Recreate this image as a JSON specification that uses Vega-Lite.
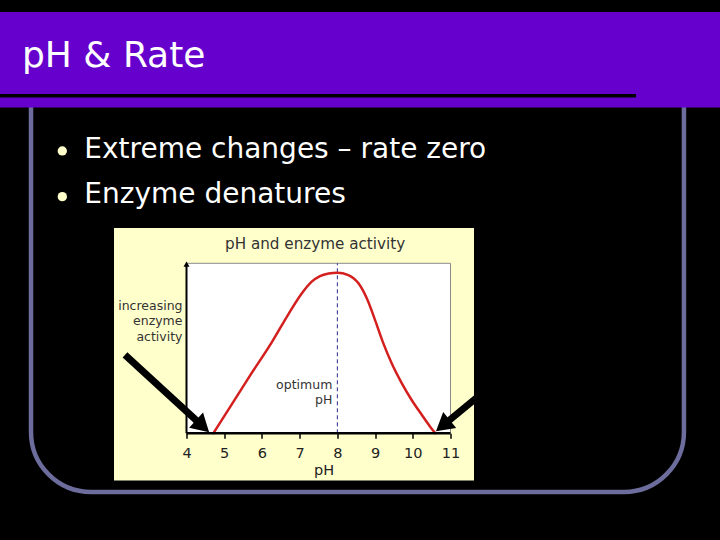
{
  "$schema": "https://vega.github.io/schema/vega-lite/v6.json",
  "width": 264,
  "height": 170,
  "autosize": {"type": "none"},
  "padding": {"left": 186.5, "top": 263.3, "right": 269.5, "bottom": 106.7},
  "background": "#000000",
  "view": {"fill": null, "stroke": null},
  "config": {"view": {"stroke": null}},
  "title": {
    "text": "pH & Rate",
    "subtitle": ["\u200b\u00a0\u00a0\u00a0\u00a0\u00a0\u00a0\u00a0Extreme changes – rate zero", "\u200b\u00a0\u00a0\u00a0\u00a0\u00a0\u00a0\u00a0Enzyme denatures"],
    "anchor": "start",
    "frame": "group",
    "orient": "top",
    "offset": 0,
    "baseline": "top",
    "dx": -164.5,
    "dy": 198.3,
    "font": "DejaVu Sans",
    "fontSize": 36,
    "fontWeight": "normal",
    "color": "#FFFFFF",
    "subtitleFont": "DejaVu Sans",
    "subtitleFontSize": 28,
    "subtitleColor": "#FFFFFF",
    "subtitleLineHeight": 45,
    "subtitlePadding": 61.6
  },
  "layer": [
    {
      "data": {"values": [{}]},
      "mark": {"type": "rect", "fill": "transparent", "stroke": "#6D6D9D", "strokeWidth": 4.5, "cornerRadiusBottomLeft": 60, "cornerRadiusBottomRight": 60, "clip": false},
      "encoding": {
        "x": {
          "datum": -0.123, "type": "quantitative",
          "scale": {"domain": [4, 11], "nice": false, "zero": false},
          "axis": {
            "orient": "bottom", "values": [4, 5, 6, 7, 8, 9, 10, 11], "tickCount": 8,
            "domain": false, "grid": false, "ticks": true, "tickSize": 5, "tickWidth": 1.5, "tickColor": "#000000",
            "labels": true,
            "labelFont": "DejaVu Sans", "labelFontSize": 14.5, "labelColor": "#222222", "labelPadding": 8,
            "labelFlush": false, "labelOverlap": false,
            "title": "pH", "titleFont": "DejaVu Sans", "titleFontSize": 14.5, "titleFontWeight": "normal",
            "titleColor": "#222222", "titleX": 137, "titleY": 37, "titleBaseline": "middle", "titleAlign": "center",
            "zindex": 1
          }
        },
        "x2": {"datum": 17.19},
        "y": {
          "datum": -34.5, "type": "quantitative",
          "scale": {"domain": [0, 100], "nice": false, "zero": false},
          "axis": {
            "orient": "left", "domain": false, "ticks": false, "labels": false, "grid": false,
            "title": ["increasing", "enzyme", "activity"], "titleAngle": 0, "titleAlign": "right",
            "titleBaseline": "top", "titleX": -4.5, "titleY": 35.7, "titleFont": "DejaVu Sans", "titleFontSize": 12.5,
            "titleFontWeight": "normal", "titleColor": "#333333", "titleLineHeight": 15.5, "zindex": 1
          }
        },
        "y2": {"datum": 202}
      }
    },
    {
      "data": {"values": [{}]},
      "mark": {"type": "rect", "fill": "#6600CC", "clip": false},
      "encoding": {
        "x": {"datum": -2, "type": "quantitative", "scale": {"domain": [4, 11], "nice": false, "zero": false}},
        "x2": {"datum": 19},
        "y": {"datum": 191.6, "type": "quantitative", "scale": {"domain": [0, 100], "nice": false, "zero": false}},
        "y2": {"datum": 247.8}
      }
    },
    {
      "data": {"values": [{}]},
      "mark": {"type": "rule", "color": "#000000", "strokeWidth": 3.5, "clip": false},
      "encoding": {
        "x": {"datum": -2, "type": "quantitative", "scale": {"domain": [4, 11], "nice": false, "zero": false}},
        "x2": {"datum": 15.92},
        "y": {"datum": 198.5, "type": "quantitative", "scale": {"domain": [0, 100], "nice": false, "zero": false}}
      }
    },
    {
      "data": {"values": [{}]},
      "mark": {"type": "point", "shape": "circle", "filled": true, "color": "#FFFFCC", "opacity": 1, "size": 87, "clip": false},
      "encoding": {
        "x": {"datum": 0.707, "type": "quantitative", "scale": {"domain": [4, 11], "nice": false, "zero": false}},
        "y": {"datum": 166.1, "type": "quantitative", "scale": {"domain": [0, 100], "nice": false, "zero": false}}
      }
    },
    {
      "data": {"values": [{}]},
      "mark": {"type": "point", "shape": "circle", "filled": true, "color": "#FFFFCC", "opacity": 1, "size": 87, "clip": false},
      "encoding": {
        "x": {"datum": 0.707, "type": "quantitative", "scale": {"domain": [4, 11], "nice": false, "zero": false}},
        "y": {"datum": 139.2, "type": "quantitative", "scale": {"domain": [0, 100], "nice": false, "zero": false}}
      }
    },
    {
      "data": {"values": [{}]},
      "mark": {"type": "rect", "fill": "#FFFFCC", "clip": false},
      "encoding": {
        "x": {"datum": 2.078, "type": "quantitative", "scale": {"domain": [4, 11], "nice": false, "zero": false}},
        "x2": {"datum": 11.623},
        "y": {"datum": -27.8, "type": "quantitative", "scale": {"domain": [0, 100], "nice": false, "zero": false}},
        "y2": {"datum": 120.8}
      }
    },
    {
      "data": {"values": [{}]},
      "mark": {"type": "rect", "fill": "#FFFFFF", "stroke": "#8A8A8A", "strokeWidth": 1},
      "encoding": {
        "x": {"datum": 4, "type": "quantitative", "scale": {"domain": [4, 11], "nice": false, "zero": false}},
        "x2": {"datum": 11},
        "y": {"datum": 0, "type": "quantitative", "scale": {"domain": [0, 100], "nice": false, "zero": false}},
        "y2": {"datum": 100}
      }
    },
    {
      "data": {"values": [{}]},
      "mark": {"type": "rule", "color": "#2B2B8C", "strokeWidth": 1, "strokeDash": [4, 3]},
      "encoding": {
        "x": {"datum": 8, "type": "quantitative", "scale": {"domain": [4, 11], "nice": false, "zero": false}},
        "y": {"datum": 0, "type": "quantitative", "scale": {"domain": [0, 100], "nice": false, "zero": false}},
        "y2": {"datum": 100}
      }
    },
    {
      "data": {"values": [
        {"ph": 4.71, "activity": 0},
        {"ph": 5.2, "activity": 17},
        {"ph": 5.73, "activity": 35.5},
        {"ph": 6.26, "activity": 53.5},
        {"ph": 6.7, "activity": 70},
        {"ph": 7.06, "activity": 82.4},
        {"ph": 7.32, "activity": 89.2},
        {"ph": 7.54, "activity": 92.5},
        {"ph": 7.77, "activity": 94},
        {"ph": 8.0, "activity": 94.5},
        {"ph": 8.29, "activity": 93.1},
        {"ph": 8.56, "activity": 88.2},
        {"ph": 8.78, "activity": 79.4},
        {"ph": 9.0, "activity": 66.6},
        {"ph": 9.22, "activity": 52.9},
        {"ph": 9.44, "activity": 41.2},
        {"ph": 9.71, "activity": 29.4},
        {"ph": 9.97, "activity": 19.6},
        {"ph": 10.24, "activity": 10.8},
        {"ph": 10.46, "activity": 3.9},
        {"ph": 10.6, "activity": 0}
      ]},
      "mark": {"type": "line", "color": "#D41F1F", "strokeWidth": 2.5, "interpolate": "monotone", "strokeCap": "round"},
      "encoding": {
        "x": {
          "field": "ph", "type": "quantitative",
          "scale": {"domain": [4, 11], "nice": false, "zero": false},
          "axis": {
            "orient": "bottom", "values": [4, 5, 6, 7, 8, 9, 10, 11], "tickCount": 8,
            "domain": false, "grid": false, "ticks": true, "tickSize": 5, "tickWidth": 1.5, "tickColor": "#000000",
            "labels": true,
            "labelFont": "DejaVu Sans", "labelFontSize": 14.5, "labelColor": "#222222", "labelPadding": 8,
            "labelFlush": false, "labelOverlap": false,
            "title": "pH", "titleFont": "DejaVu Sans", "titleFontSize": 14.5, "titleFontWeight": "normal",
            "titleColor": "#222222", "titleX": 137, "titleY": 37, "titleBaseline": "middle", "titleAlign": "center",
            "zindex": 1
          }
        },
        "y": {
          "field": "activity", "type": "quantitative",
          "scale": {"domain": [0, 100], "nice": false, "zero": false},
          "axis": {
            "orient": "left", "domain": false, "ticks": false, "labels": false, "grid": false,
            "title": ["increasing", "enzyme", "activity"], "titleAngle": 0, "titleAlign": "right",
            "titleBaseline": "top", "titleX": -4.5, "titleY": 35.7, "titleFont": "DejaVu Sans", "titleFontSize": 12.5,
            "titleFontWeight": "normal", "titleColor": "#333333", "titleLineHeight": 15.5, "zindex": 1
          }
        }
      }
    },
    {
      "data": {"values": [{}]},
      "mark": {"type": "rule", "color": "#000000", "strokeWidth": 2.5},
      "encoding": {
        "x": {"datum": 4, "type": "quantitative", "scale": {"domain": [4, 11], "nice": false, "zero": false}},
        "x2": {"datum": 11},
        "y": {"datum": 0, "type": "quantitative", "scale": {"domain": [0, 100], "nice": false, "zero": false}}
      }
    },
    {
      "data": {"values": [{}]},
      "mark": {"type": "rule", "color": "#000000", "strokeWidth": 2},
      "encoding": {
        "x": {"datum": 4, "type": "quantitative", "scale": {"domain": [4, 11], "nice": false, "zero": false}},
        "y": {"datum": 0, "type": "quantitative", "scale": {"domain": [0, 100], "nice": false, "zero": false}},
        "y2": {"datum": 99}
      }
    },
    {
      "data": {"values": [{}]},
      "mark": {"type": "point", "shape": "triangle-up", "filled": true, "color": "#000000", "opacity": 1, "size": 36},
      "encoding": {
        "x": {"datum": 4, "type": "quantitative", "scale": {"domain": [4, 11], "nice": false, "zero": false}},
        "y": {"datum": 99.5, "type": "quantitative", "scale": {"domain": [0, 100], "nice": false, "zero": false}}
      }
    },
    {
      "data": {"name": "arrows", "values": [
        {"side": "left", "x": 2.369, "y": 46.1, "x2": 4.427, "y2": 4.2},
        {"side": "right", "x": 11.785, "y": 22.6, "x2": 10.796, "y2": 4.5}
      ]},
      "layer": [
        {
          "mark": {"type": "rule", "color": "#000000", "strokeWidth": 7, "clip": false},
          "encoding": {
            "x": {"field": "x", "type": "quantitative", "scale": {"domain": [4, 11], "nice": false, "zero": false}},
            "x2": {"field": "x2"},
            "y": {"field": "y", "type": "quantitative", "scale": {"domain": [0, 100], "nice": false, "zero": false}},
            "y2": {"field": "y2"}
          }
        },
        {
          "transform": [{"filter": "datum.side === 'left'"}],
          "mark": {"type": "point", "shape": "triangle-up", "filled": true, "color": "#000000", "opacity": 1, "size": 420, "angle": 132.6, "clip": false},
          "encoding": {
            "x": {"field": "x2", "type": "quantitative", "scale": {"domain": [4, 11], "nice": false, "zero": false}},
            "y": {"field": "y2", "type": "quantitative", "scale": {"domain": [0, 100], "nice": false, "zero": false}}
          }
        },
        {
          "transform": [{"filter": "datum.side === 'right'"}],
          "mark": {"type": "point", "shape": "triangle-up", "filled": true, "color": "#000000", "opacity": 1, "size": 420, "angle": 230.6, "clip": false},
          "encoding": {
            "x": {"field": "x2", "type": "quantitative", "scale": {"domain": [4, 11], "nice": false, "zero": false}},
            "y": {"field": "y2", "type": "quantitative", "scale": {"domain": [0, 100], "nice": false, "zero": false}}
          }
        }
      ]
    },
    {
      "data": {"values": [{}]},
      "mark": {"type": "text", "text": "pH and enzyme activity", "font": "DejaVu Sans", "fontSize": 15.2, "color": "#333333", "align": "center", "baseline": "middle", "clip": false},
      "encoding": {
        "x": {"datum": 7.41, "type": "quantitative", "scale": {"domain": [4, 11], "nice": false, "zero": false}},
        "y": {"datum": 111.5, "type": "quantitative", "scale": {"domain": [0, 100], "nice": false, "zero": false}}
      }
    },
    {
      "data": {"values": [
        {"label": "optimum", "ph": 8, "level": 28.5},
        {"label": "pH", "ph": 8, "level": 19.6}
      ]},
      "mark": {"type": "text", "font": "DejaVu Sans", "fontSize": 12.5, "color": "#333333", "align": "right", "baseline": "middle", "dx": -5},
      "encoding": {
        "x": {"field": "ph", "type": "quantitative", "scale": {"domain": [4, 11], "nice": false, "zero": false}},
        "y": {"field": "level", "type": "quantitative", "scale": {"domain": [0, 100], "nice": false, "zero": false}},
        "text": {"field": "label", "type": "nominal"}
      }
    }
  ]
}
